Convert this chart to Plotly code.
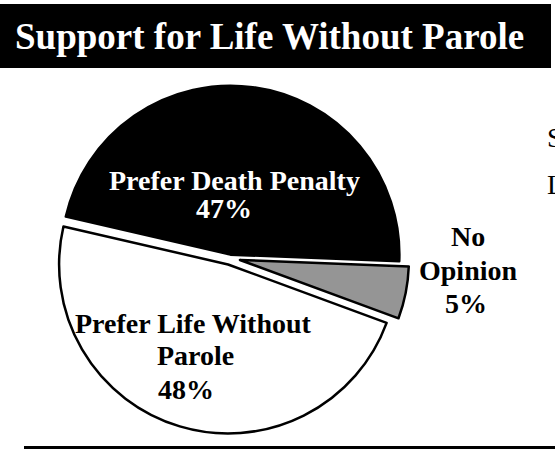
import plotly.graph_objects as go

# ---- data ----
labels = ["Prefer Death Penalty", "No Opinion", "Prefer Life Without Parole"]
values = [47, 5, 48]
colors = ["#000000", "#959595", "#ffffff"]
pulls = [0.02, 0.06, 0.04]
title_text = "Support for Life Without Parole"

# label lines (text from data)
label_lines = [
    ["Prefer Death Penalty", f"{values[0]}%"],
    ["No", "Opinion", f"{values[1]}%"],
    ["Prefer Life Without", "Parole", f"{values[2]}%"],
]

W, H = 555, 449
FONT = "Liberation Serif"

fig = go.Figure()
fig.add_trace(go.Pie(
    labels=labels, values=values, sort=False, direction="clockwise",
    rotation=-77, pull=pulls,
    marker=dict(colors=colors, line=dict(color="#000000", width=2.5)),
    textinfo="none", hoverinfo="label+percent", showlegend=False,
    domain=dict(x=[0.0917, 0.7371], y=[0.0265, 0.8243]),
))

def px_x(x):
    return x / W

def px_y(y):
    return 1 - y / H

ann = []
# title
ann.append(dict(x=px_x(13), y=px_y(36), xref="paper", yref="paper", xanchor="left", yanchor="middle",
                text=f"<b>{title_text}</b>", showarrow=False,
                font=dict(family=FONT, size=37, color="#ffffff")))

# (x center, y middle, anchor) for each line
pos = [
    [(234, 181, "center"), (224, 209, "center")],
    [(468, 236, "center"), (468, 270, "center"), (466, 303, "center")],
    [(193, 323, "center"), (155, 355, "left"), (156, 389, "left")],
]
txtcol = ["#ffffff", "#000000", "#000000"]
for i, lines in enumerate(label_lines):
    for j, t in enumerate(lines):
        x, y, anc = pos[i][j]
        ann.append(dict(x=px_x(x), y=px_y(y), xref="paper", yref="paper", xanchor=anc, yanchor="middle",
                        text=f"<b>{t}</b>", showarrow=False,
                        font=dict(family=FONT, size=28, color=txtcol[i])))

# cut-off text on the right
for t, y in [("S", 137), ("L", 184)]:
    ann.append(dict(x=px_x(545), y=px_y(y), xref="paper", yref="paper", xanchor="left", yanchor="middle",
                    text=t, showarrow=False, font=dict(family=FONT, size=28, color="#000000")))

shapes = [
    dict(type="rect", xref="paper", yref="paper", x0=0, x1=px_x(551), y0=px_y(68), y1=px_y(4),
         fillcolor="#000000", line=dict(width=0), layer="below"),
    dict(type="line", xref="paper", yref="paper", x0=px_x(24), x1=1, y0=px_y(447.5), y1=px_y(447.5),
         line=dict(color="#000000", width=3)),
]

fig.update_layout(
    width=W, height=H, margin=dict(l=0, r=0, t=0, b=0),
    paper_bgcolor="#ffffff", plot_bgcolor="#ffffff",
    annotations=ann, shapes=shapes,
)

fig.write_html(
    "out.html",
    config={"displayModeBar": False},
    post_script="document.body.style.margin='0';document.body.style.overflow='hidden';",
)
